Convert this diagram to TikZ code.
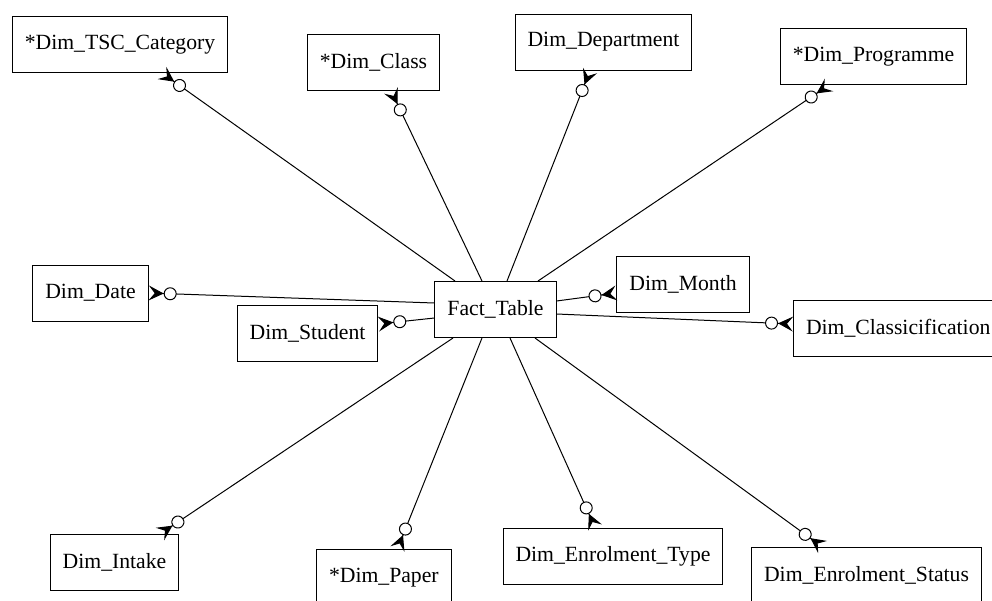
\documentclass[tikz,border=0pt]{standalone}
\usepackage{fontspec}
\setmainfont{Liberation Serif}
\usetikzlibrary{arrows.meta}

\begin{document}
\begin{tikzpicture}[x=1pt, y=-1pt,
                dimbox/.style={draw, line width=1pt, inner xsep=12.5pt, inner ysep=0pt,
                    minimum height=56pt, font=\fontsize{21.7}{26}\selectfont},
                rel/.style={line width=1pt,
                    -{Circle[fill=white,length=13pt,width=13pt] Stealth[reversed,length=15pt,width=15pt,inset=6pt]}}]
                \useasboundingbox (0,0) rectangle (992,600);
                \clip (0,0) rectangle (992,600);
                % fact table in the middle
                \node[dimbox] (fact) at (495.5,309.5) {Fact\_Table};
                % dimensions, top row
                \node[dimbox] (tsc) at (120,44.5) {*Dim\_TSC\_Category};
                \node[dimbox] (class) at (373.5,62) {*Dim\_Class};
                \node[dimbox] (dept) at (603.5,42) {Dim\_Department};
                \node[dimbox] (prog) at (873.5,56.5) {*Dim\_Programme};
                % middle row
                \node[dimbox] (date) at (90.5,293) {Dim\_Date};
                \node[dimbox] (student) at (307.5,333) {Dim\_Student};
                \node[dimbox] (month) at (683,284) {Dim\_Month};
                \node[dimbox, anchor=west] (classif) at (793,328) {Dim\_Classicification};
                % bottom row
                \node[dimbox] (intake) at (114.5,562.5) {Dim\_Intake};
                \node[dimbox, anchor=north west] (paper) at (316,549) {*Dim\_Paper};
                \node[dimbox] (etype) at (613,556) {Dim\_Enrolment\_Type};
                \node[dimbox, anchor=north east] (estatus) at (982,547) {Dim\_Enrolment\_Status};
                % relations
                \draw[rel] ([xshift=-40.5]fact.north) -- ([xshift=42]tsc.south);
                \draw[rel] ([xshift=-13.5]fact.north) -- ([xshift=17.5]class.south);
                \draw[rel] ([xshift=11.5]fact.north) -- ([xshift=-13.5]dept.south);
                \draw[rel] ([xshift=42.5]fact.north) -- ([xshift=-44.5]prog.south);
                \draw[rel] ([yshift=6.5]fact.west) -- (date.east);
                \draw[rel] ([yshift=-8.5]fact.west) -- ([yshift=9]student.east);
                \draw[rel] ([yshift=8.5]fact.east) -- ([yshift=-9]month.west);
                \draw[rel] ([yshift=-4.5]fact.east) -- ([yshift=4]classif.west);
                \draw[rel] ([xshift=-42.5]fact.south) -- ([xshift=45.5]intake.north);
                \draw[rel] ([xshift=-13.5]fact.south) -- ([xshift=13.6]paper.north);
                \draw[rel] ([xshift=14.5]fact.south) -- ([xshift=-18]etype.north);
                \draw[rel] ([xshift=39.5]fact.south) -- ([xshift=-44]estatus.north);
\end{tikzpicture}
\end{document}
